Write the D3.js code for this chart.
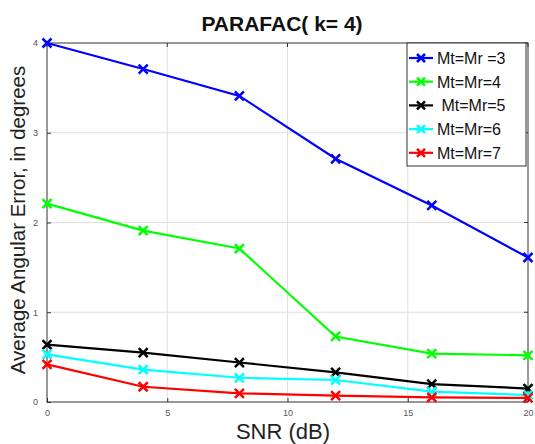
<!DOCTYPE html>
<html>
<head>
<meta charset="utf-8">
<script src="https://cdn.jsdelivr.net/npm/d3@7"></script>
<style>
  body { margin: 0; background: #fff; }
  text { font-family: "Liberation Sans", Arial, sans-serif; }
</style>
</head>
<body>
<script>
const snr = [0, 4, 8, 12, 16, 20];
const names = ['Mt=Mr =3', 'Mt=Mr=4', ' Mt=Mr=5', 'Mt=Mr=6', 'Mt=Mr=7'];
const colors = ['#0000ff', '#00ff00', '#000000', '#00ffff', '#ff0000'];
const mr3 = [4.0, 3.71, 3.41, 2.71, 2.19, 1.61];
const mr4 = [2.21, 1.91, 1.71, 0.73, 0.54, 0.52];
const mr5 = [0.64, 0.55, 0.44, 0.33, 0.20, 0.15];
const mr6 = [0.53, 0.36, 0.27, 0.245, 0.115, 0.078];
const mr7 = [0.42, 0.17, 0.097, 0.07, 0.052, 0.045];
const series = [mr3, mr4, mr5, mr6, mr7];
const xTicks = [0, 5, 10, 15, 20];
const yTicks = [0, 1, 2, 3, 4];

const width = 535, height = 444;
const padLeft = 47, padRight = 528, padTop = 43, padBottom = 402;

const svg = d3.select('body').append('svg')
  .attr('width', width).attr('height', height);

const x = d3.scaleLinear().domain([0, 20]).range([padLeft, padRight]);
const y = d3.scaleLinear().domain([0, 4]).range([padBottom, padTop]);

//grid
svg.selectAll('.gx').data(xTicks.slice(1, -1)).enter().append('line')
   .attr('x1', d => x(d)).attr('x2', d => x(d))
   .attr('y1', padTop).attr('y2', padBottom)
   .attr('stroke', '#e0e0e0').attr('stroke-width', 1);
svg.selectAll('.gy').data(yTicks.slice(1, -1)).enter().append('line')
   .attr('y1', d => y(d)).attr('y2', d => y(d))
   .attr('x1', padLeft).attr('x2', padRight)
   .attr('stroke', '#e0e0e0').attr('stroke-width', 1);

//axes
const xAxis = d3.axisBottom(x).tickValues(xTicks).tickFormat(d3.format('d')).tickSize(-4).tickPadding(7);
const yAxis = d3.axisLeft(y).tickValues(yTicks).tickFormat(d3.format('d')).tickSize(-4).tickPadding(9);
const gx = svg.append('g').attr('transform', 'translate(0,' + padBottom + ')').call(xAxis);
const gy = svg.append('g').attr('transform', 'translate(' + padLeft + ',0)').call(yAxis);
[gx, gy].forEach(g => {
  g.select('.domain').remove();
  g.selectAll('line').attr('stroke', '#333');
  g.selectAll('text').attr('fill', '#555').attr('font-size', 9)
   .style('font-family', '"Liberation Sans", Arial, sans-serif');
});
gx.selectAll('text').attr('dy', '0.8em');
//top & right ticks
svg.selectAll('.tt').data(xTicks).enter().append('line')
   .attr('x1', d => x(d)).attr('x2', d => x(d))
   .attr('y1', padTop).attr('y2', padTop + 4).attr('stroke', '#333');
svg.selectAll('.rt').data(yTicks).enter().append('line')
   .attr('y1', d => y(d)).attr('y2', d => y(d))
   .attr('x1', padRight).attr('x2', padRight - 4).attr('stroke', '#333');

svg.append('rect')
   .attr('x', padLeft).attr('y', padTop)
   .attr('width', padRight - padLeft).attr('height', padBottom - padTop)
   .attr('fill', 'none').attr('stroke', '#333').attr('stroke-width', 1);

//lines
const line = d3.line().x((d, i) => x(snr[i])).y(d => y(d));
function cross(sel, s) {
  sel.append('path')
     .attr('d', 'M' + (-s) + ',' + (-s) + 'L' + s + ',' + s + 'M' + (-s) + ',' + s + 'L' + s + ',' + (-s))
     .attr('stroke-width', 2.5).attr('fill', 'none');
}
series.forEach((vals, k) => {
  svg.append('path').datum(vals)
     .attr('d', line)
     .attr('fill', 'none')
     .attr('stroke', colors[k])
     .attr('stroke-width', 2.2);
  svg.selectAll('.m' + k).data(vals).enter().append('g')
     .attr('transform', (d, i) => 'translate(' + x(snr[i]) + ',' + y(d) + ')')
     .attr('stroke', colors[k])
     .call(cross, 4.5);
});

//legend
const lg = svg.append('g');
lg.append('rect')
  .attr('x', 407).attr('y', 43).attr('width', 119).attr('height', 123)
  .attr('fill', '#fff').attr('stroke', '#333').attr('stroke-width', 1);
names.forEach((n, k) => {
  const yy = 58 + k * 23.7;
  lg.append('line').attr('x1', 409).attr('x2', 433).attr('y1', yy).attr('y2', yy)
    .attr('stroke', colors[k]).attr('stroke-width', 2.2);
  lg.append('g').attr('transform', 'translate(421,' + yy + ')')
    .attr('stroke', colors[k]).call(cross, 4);
  lg.append('text').attr('x', 437).attr('y', yy + 6)
    .attr('font-size', 16).attr('fill', '#111')
    .style('white-space', 'pre').text(n);
});

//labels
svg.append('text')
   .attr('x', 282).attr('y', 31).attr('text-anchor', 'middle')
   .attr('font-size', 21).attr('font-weight', 'bold').attr('fill', '#111')
   .style('white-space', 'pre').text('PARAFAC( k= 4)');
svg.append('text')
   .attr('x', 283).attr('y', 439).attr('text-anchor', 'middle')
   .attr('font-size', 22).attr('fill', '#222')
   .text('SNR (dB)');
svg.append('text')
   .attr('transform', 'translate(25,220) rotate(-90)')
   .attr('text-anchor', 'middle')
   .attr('font-size', 20.5).attr('fill', '#222')
   .text('Average Angular Error, in degrees');
</script>
</body>
</html>
